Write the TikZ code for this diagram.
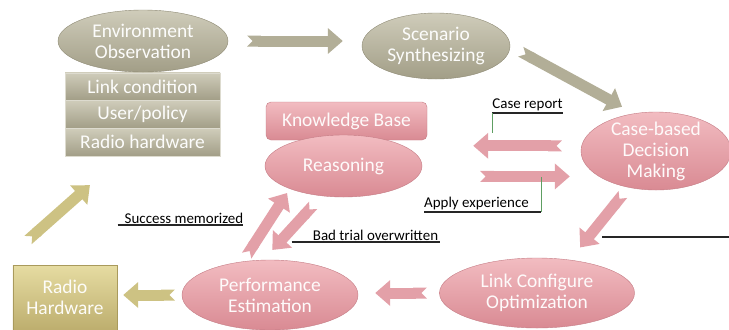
\documentclass[tikz,border=0pt]{standalone}
\usepackage{fontspec}
\setmainfont{Carlito}
\usetikzlibrary{positioning,shapes.geometric,arrows.meta}

\definecolor{graytop}{HTML}{CFCCBA}
\definecolor{graybot}{HTML}{A29E87}
\definecolor{grayedge}{HTML}{8E8A74}
\definecolor{pinktop}{HTML}{F2BCC1}
\definecolor{pinkbot}{HTML}{D98A93}
\definecolor{pinkedge}{HTML}{C57C85}
\definecolor{goldtop}{HTML}{E6DCA2}
\definecolor{goldbot}{HTML}{BDAE6E}
\definecolor{goldedge}{HTML}{A99A5C}
\definecolor{grayarr}{HTML}{B2AE97}
\definecolor{pinkarr}{HTML}{E3A0A8}
\definecolor{goldarr}{HTML}{CDC283}
\definecolor{callgreen}{HTML}{5E9E62}

\tikzset{
  nodetext/.style={font=\fontsize{19.5}{21}\selectfont, align=center},
  blockarrow/.style={line width=11bp, {Triangle Cap[reversed]}-{Triangle[length=15bp,width=25bp]}},
}

\begin{document}
\begin{tikzpicture}[x=1bp,y=-1bp,
    oval/.style={ellipse, inner sep=0pt, nodetext},
    grayoval/.style={oval, top color=graytop, bottom color=graybot, draw=grayedge, text=white!94!graytop},
    pinkoval/.style={oval, top color=pinktop, bottom color=pinkbot, draw=pinkedge, text=white!92!pinktop},
    stackbox/.style={rectangle, minimum width=155bp, minimum height=27.5bp, inner sep=0pt, nodetext,
      top color=graytop, bottom color=graybot, draw=graytop!70!white, text=white!94!graytop},
    lbl/.style={font=\fontsize{15}{17}\selectfont, inner xsep=0pt, inner ysep=1.5bp},
    uline/.style={line width=1.1bp, black!85},
    callout/.style={line width=0.8bp, callgreen},
    grayarrow/.style={blockarrow, grayarr},
    pinkarrow/.style={blockarrow, pinkarr},
    goldarrow/.style={blockarrow, goldarr}]

  \path[fill=white] (0,0) rectangle (729,329);
  \useasboundingbox (0,0) rectangle (729,329);

  % observation block
  \node[stackbox] (lnk) at (142.5,86.5) {Link condition};
  \node[stackbox, below=0pt of lnk] (usr) {User/policy};
  \node[stackbox, below=0pt of usr] (hw) {Radio hardware};
  \node[grayoval, minimum width=170bp, minimum height=62bp] (env) at (143,41) {Environment\\Observation};

  \node[grayoval, minimum width=148bp, minimum height=66bp] (scen) at (436,46) {Scenario\\Synthesizing};
  \node[pinkoval, minimum width=150bp, minimum height=78bp, inner ysep=-5bp] (case) at (656,151) {Case-based\\Decision\\Making};

  % knowledge base
  \node[rectangle, rounded corners=5bp, minimum width=161bp, minimum height=38bp, nodetext,
    top color=pinktop, bottom color=pinkbot, draw=pinkedge, text=white!92!pinktop] (kb) at (346.5,121) {Knowledge Base};
  \node[pinkoval, minimum width=157bp, minimum height=62bp] (reason) at (343.5,166) {Reasoning};

  \node[pinkoval, minimum width=195bp, minimum height=70bp] (link) at (537,293) {Link Configure\\Optimization};
  \node[pinkoval, minimum width=176bp, minimum height=70bp] (perf) at (270,295) {Performance\\Estimation};
  \node[rectangle, minimum width=104bp, minimum height=65bp, nodetext,
    top color=goldtop, bottom color=goldbot, draw=goldedge, text=white!92!goldtop] (radio) at (65,297.5) {Radio\\Hardware};

  \coordinate (rtail) at (28,240);

  % block arrows
  \draw[grayarrow, shorten <=19bp, shorten >=19bp] (env.east) -- (env.east -| scen.west);
  \draw[grayarrow, shorten <=12bp, shorten >=14bp] (scen.east) -- (case.120);
  \draw[pinkarrow, shorten <=19.5bp, shorten >=51bp] (case.176) -- (case.176 -| reason.east);
  \draw[pinkarrow, shorten <=62.5bp, shorten >=11bp] (reason.-8) -- (reason.-8 -| case.west);
  \draw[pinkarrow, shorten <=9bp, shorten >=16bp] (case.-127) -- (link.45);
  \draw[pinkarrow, shorten <=12.5bp, shorten >=17bp] (link.west) -- (link.west -| perf.east);
  \draw[goldarrow, shorten <=7bp, shorten >=6bp] (perf.west) -- (perf.west -| radio.east);
  \draw[goldarrow, shorten >=43.6bp] (rtail) -- (hw.-145);
  \draw[pinkarrow, shorten <=7bp, shorten >=5bp] (perf.129) -- (reason.-157);
  \draw[pinkarrow, shorten <=12.7bp, shorten >=13.5bp] (reason.-126) -- (perf.101);

  % labels
  \node[lbl, anchor=south] (crep) at (527.5,113) {Case report};
  \draw[uline] (crep.south west) -- (crep.south east);
  \draw[callout] (crep.south west) -- ++(0,20);

  \node[lbl, anchor=south] (apply) at (476.5,212) {Apply experience};
  \draw[uline] (apply.south west) -- ([xshift=12bp]apply.south east);
  \draw[callout] ([xshift=12bp]apply.south east) -- ++(0,-35);

  \node[lbl, anchor=south] (succ) at (184,225) {Success memorized};
  \draw[uline] ([xshift=-7bp]succ.south west) -- (succ.south east);

  \node[lbl, anchor=south] (bad) at (375.5,242) {Bad trial overwritten};
  \draw[uline] ([xshift=-21bp]bad.south west) -- ([xshift=2bp]bad.south east);

  \coordinate (rimA) at (602,237);
  \coordinate (rimB) at (729,237);
  \draw[uline] (rimA) -- (rimB);

\end{tikzpicture}
\end{document}
